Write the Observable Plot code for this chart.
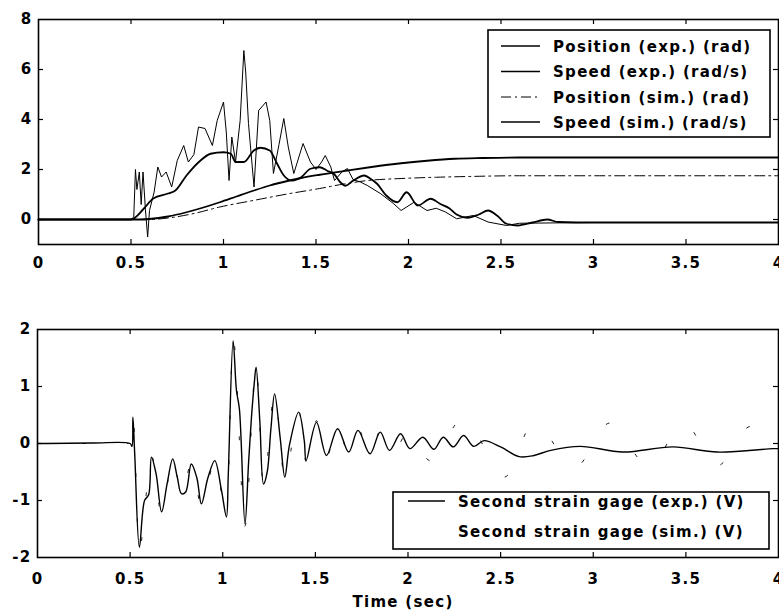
<!DOCTYPE html>
<html><head><meta charset="utf-8">
<script src="https://cdn.jsdelivr.net/npm/d3@7"></script>
<script src="https://cdn.jsdelivr.net/npm/@observablehq/plot@0.6"></script>
<style>
html,body{margin:0;padding:0;background:#fff;overflow:hidden;}
#wrap{position:relative;width:779px;height:614px;background:#fff;}
#top,#bot,#over{position:absolute;left:0;}
#top{top:0;} #bot{top:290px;} #over{top:0;pointer-events:none;}
</style>
</head><body>
<div id="wrap"><div id="top"></div><div id="bot"></div><svg id="over" width="779" height="614"></svg></div>
<script>
// ---------- data (time in s, value) ----------
const posExp = [[0,0],[0.55,0],[0.6,0.02],[0.7,0.12],[0.8,0.29],[0.9,0.5],[0.98,0.69],[1.07,0.92],[1.165,1.16],[1.25,1.36],[1.34,1.53],[1.42,1.66],[1.52,1.79],[1.67,1.96],[1.8,2.1],[1.96,2.25],[2.1,2.35],[2.25,2.43],[2.4,2.46],[2.6,2.48],[3.0,2.48],[4.0,2.48]];
const posSim = [[0,0],[0.6,0],[0.7,0.06],[0.84,0.24],[0.98,0.5],[1.16,0.76],[1.36,1.04],[1.52,1.24],[1.65,1.42],[1.78,1.56],[1.96,1.64],[2.15,1.69],[2.32,1.72],[2.6,1.75],[4.0,1.75]];
const speedExp = [[0,0],[0.5,0],[0.515,0.1],[0.524,2.0],[0.532,1.2],[0.545,1.9],[0.555,0.6],[0.565,1.9],[0.578,0.4],[0.59,-0.7],[0.6,0.36],[0.625,1.1],[0.645,2.1],[0.665,1.7],[0.69,1.9],[0.72,1.3],[0.75,2.36],[0.785,2.96],[0.81,2.3],[0.84,2.6],[0.865,3.7],[0.9,3.64],[0.94,2.96],[0.966,3.96],[1.0,4.7],[1.015,3.5],[1.03,1.56],[1.045,3.3],[1.065,2.3],[1.09,3.96],[1.11,6.76],[1.12,5.9],[1.135,3.84],[1.165,1.3],[1.19,4.36],[1.23,4.7],[1.25,3.96],[1.27,1.84],[1.3,3.0],[1.326,4.04],[1.35,2.9],[1.38,1.84],[1.43,3.04],[1.47,2.3],[1.5,2.0],[1.53,2.3],[1.55,2.56],[1.58,2.1],[1.6,1.56],[1.64,1.9],[1.67,2.04],[1.7,1.6],[1.74,1.5],[1.78,1.35],[1.85,1.03],[1.92,0.63],[1.96,0.36],[2.03,0.69],[2.1,0.36],[2.15,0.45],[2.2,0.3],[2.26,0.03],[2.35,0.16],[2.43,-0.1],[2.53,-0.24],[2.6,-0.15],[3.0,-0.12],[4.0,-0.12]];
const speedSim = [[0,0],[0.5,0],[0.57,0.44],[0.62,0.84],[0.7,1.04],[0.74,1.16],[0.8,1.76],[0.876,2.36],[0.93,2.63],[1.0,2.69],[1.04,2.63],[1.065,2.3],[1.11,2.3],[1.164,2.76],[1.2,2.87],[1.25,2.76],[1.29,2.23],[1.326,1.76],[1.37,1.56],[1.42,1.69],[1.47,2.03],[1.52,2.09],[1.56,1.95],[1.6,1.8],[1.63,1.5],[1.66,1.35],[1.7,1.55],[1.76,1.76],[1.8,1.6],[1.83,1.43],[1.88,0.96],[1.94,0.69],[1.99,1.09],[2.05,0.56],[2.12,0.83],[2.17,0.63],[2.22,0.45],[2.26,0.2],[2.32,0.07],[2.38,0.2],[2.43,0.36],[2.48,0.15],[2.53,-0.17],[2.59,-0.24],[2.67,-0.12],[2.75,0.0],[2.81,-0.1],[3.0,-0.12],[4.0,-0.12]];
const strainExp = [[0,0],[0.3,0.01],[0.5,0],[0.51,-0.05],[0.515,0.46],[0.525,-0.2],[0.55,-1.82],[0.578,-1.0],[0.6,-0.9],[0.615,-0.24],[0.64,-0.53],[0.67,-1.2],[0.7,-0.7],[0.73,-0.27],[0.755,-0.6],[0.777,-0.88],[0.8,-0.85],[0.83,-0.36],[0.86,-0.6],[0.885,-1.06],[0.92,-0.6],[0.957,-0.3],[0.993,-0.82],[1.02,-1.29],[1.03,-0.53],[1.056,1.8],[1.074,0.93],[1.09,0.6],[1.12,-1.41],[1.14,-0.3],[1.155,0.46],[1.17,1.05],[1.18,1.34],[1.2,0.4],[1.22,-0.71],[1.24,-0.5],[1.26,0.26],[1.28,0.87],[1.31,0.1],[1.335,-0.59],[1.36,-0.03],[1.41,0.55],[1.44,0.05],[1.45,-0.3],[1.506,0.37],[1.56,-0.21],[1.62,0.26],[1.68,-0.15],[1.73,0.23],[1.795,-0.18],[1.85,0.2],[1.9,-0.12],[1.96,0.17],[2.01,-0.09],[2.08,0.11],[2.14,-0.1],[2.19,0.11],[2.245,-0.06],[2.3,0.14],[2.355,-0.05],[2.41,0.05],[2.5,-0.06],[2.6,-0.23],[2.68,-0.21],[2.77,-0.12],[2.93,-0.05],[3.16,-0.15],[3.43,-0.06],[3.67,-0.15],[3.97,-0.09],[4.0,-0.09]];
const strainSim = [[0,0],[0.5,0],[0.515,0.5],[0.55,-1.9],[0.58,-1.1],[0.615,-0.2],[0.67,-1.25],[0.73,-0.25],[0.78,-0.92],[0.83,-0.33],[0.885,-1.1],[0.96,-0.28],[1.02,-1.35],[1.056,1.85],[1.12,-1.45],[1.18,1.38],[1.22,-0.75],[1.28,0.9],[1.335,-0.62],[1.41,0.58],[1.45,-0.32],[1.506,0.4],[1.56,-0.24],[1.62,0.3],[1.68,-0.18],[1.73,0.26],[1.795,-0.2],[1.85,0.22],[1.92,-0.15],[2.0,0.2],[2.12,-0.3],[2.3,0.45],[2.52,-0.59],[2.68,0.37],[2.9,-0.42],[3.09,0.36],[3.3,-0.4],[3.49,0.35],[3.67,-0.39],[3.85,0.3],[4.0,-0.1]];

const xTickLabels = [0, 0.5, 1, 1.5, 2, 2.5, 3, 3.5, 4];
const xInnerTicks = [0.5, 1, 1.5, 2, 2.5, 3, 3.5];
const yTopLabels = [0, 2, 4, 6, 8];
const yTopTicks = [0, 2, 4, 6];
const yBotLabels = [-2, -1, 0, 1, 2];
const yBotTicks = [-1, 0, 1];
const topNames = ["Position (exp.) (rad)", "Speed (exp.) (rad/s)", "Position (sim.) (rad)", "Speed (sim.) (rad/s)"];
const botNames = ["Second strain gage (exp.) (V)", "Second strain gage (sim.) (V)"];
const xLabel = "Time (sec)";

// ---------- styles ----------
const FONT = {fontFamily: "'DejaVu Sans', sans-serif", fontWeight: "bold", fontSize: "15px", letterSpacing: "1.3px", color: "black", background: "white", overflow: "visible"};
const DASH_POS = "10,4,2,4";
const DASH_SIM_STRAIN = "3,42";
const fmt = d => String(d);

function innerTicks(xt, yt, fw, fh) {
  return [
    Plot.tickX(xt, {x: d => d, insetTop: fh - 5, stroke: "black", strokeWidth: 1.2}),
    Plot.tickX(xt, {x: d => d, insetBottom: fh - 5, stroke: "black", strokeWidth: 1.2}),
    Plot.tickY(yt, {y: d => d, insetRight: fw - 5, stroke: "black", strokeWidth: 1.2}),
    Plot.tickY(yt, {y: d => d, insetLeft: fw - 5, stroke: "black", strokeWidth: 1.2})
  ];
}

// ---------- top chart ----------
const topChart = Plot.plot({
  width: 779, height: 290,
  marginTop: 19, marginBottom: 46, marginLeft: 38, marginRight: 1,
  style: FONT,
  x: {domain: [0, 4]},
  y: {domain: [-1, 8]},
  marks: [
    Plot.line(posSim, {x: d => d[0], y: d => d[1], stroke: "black", strokeWidth: 1, strokeDasharray: DASH_POS, curve: "monotone-x"}),
    Plot.line(posExp, {x: d => d[0], y: d => d[1], stroke: "black", strokeWidth: 1.8, curve: "monotone-x"}),
    Plot.line(speedExp, {x: d => d[0], y: d => d[1], stroke: "black", strokeWidth: 1}),
    Plot.line(speedSim, {x: d => d[0], y: d => d[1], stroke: "black", strokeWidth: 1.8, curve: "monotone-x"}),
    ...innerTicks(xInnerTicks, yTopTicks, 740, 225),
    Plot.frame({stroke: "black", strokeWidth: 1.6}),
    Plot.axisX(xTickLabels, {anchor: "bottom", tickSize: 0, tickPadding: 13, tickFormat: fmt, label: null}),
    Plot.axisY(yTopLabels, {anchor: "left", tickSize: 0, tickPadding: 6, tickFormat: fmt, label: null})
  ]
});
document.getElementById("top").appendChild(topChart);

// ---------- bottom chart ----------
const botChart = Plot.plot({
  width: 779, height: 324,
  marginTop: 39, marginBottom: 57, marginLeft: 37, marginRight: 1,
  style: FONT,
  x: {domain: [0, 4]},
  y: {domain: [-2, 2]},
  marks: [
    Plot.line(strainSim, {x: d => d[0], y: d => d[1], stroke: "black", strokeWidth: 0.9, strokeDasharray: DASH_SIM_STRAIN, curve: "monotone-x"}),
    Plot.line(strainExp, {x: d => d[0], y: d => d[1], stroke: "black", strokeWidth: 1.4, curve: "catmull-rom"}),
    ...innerTicks(xInnerTicks, yBotTicks, 741, 228),
    Plot.frame({stroke: "black", strokeWidth: 1.6}),
    Plot.axisX(xTickLabels, {anchor: "bottom", tickSize: 0, tickPadding: 16, tickFormat: fmt, label: null}),
    Plot.axisY(yBotLabels, {anchor: "left", tickSize: 0, tickPadding: 6, tickFormat: fmt, label: null})
  ]
});
document.getElementById("bot").appendChild(botChart);

// ---------- legends & x label (overlay) ----------
const over = d3.select("#over");
const textStyle = t => t.attr("font-family", "'DejaVu Sans', sans-serif").attr("font-weight", "bold").attr("font-size", 15).attr("letter-spacing", "1.3px").attr("fill", "black");

function legend(x, y, w, h, rows, sampleX0, sampleX1, textX) {
  const g = over.append("g");
  g.append("rect").attr("x", x).attr("y", y).attr("width", w).attr("height", h)
    .attr("fill", "white").attr("stroke", "black").attr("stroke-width", 1.6);
  rows.forEach(r => {
    if (r.w > 0) g.append("line").attr("x1", sampleX0).attr("x2", sampleX1).attr("y1", r.y).attr("y2", r.y)
      .attr("stroke", "black").attr("stroke-width", r.w).attr("stroke-dasharray", r.dash || null);
    textStyle(g.append("text").attr("x", textX).attr("y", r.y + 5.5).text(r.name));
  });
}
legend(488, 30, 282, 107, [
  {name: topNames[0], y: 46, w: 1.6},
  {name: topNames[1], y: 71.5, w: 1.6},
  {name: topNames[2], y: 97, w: 1, dash: DASH_POS},
  {name: topNames[3], y: 122, w: 1.6}
], 501, 540, 553);
legend(393, 492, 376, 57, [
  {name: botNames[0], y: 501, w: 1.6},
  {name: botNames[1], y: 531, w: 0}
], 408, 445, 458);

textStyle(over.append("text").attr("x", 403).attr("y", 607).attr("text-anchor", "middle").text(xLabel));
</script>
</body></html>
